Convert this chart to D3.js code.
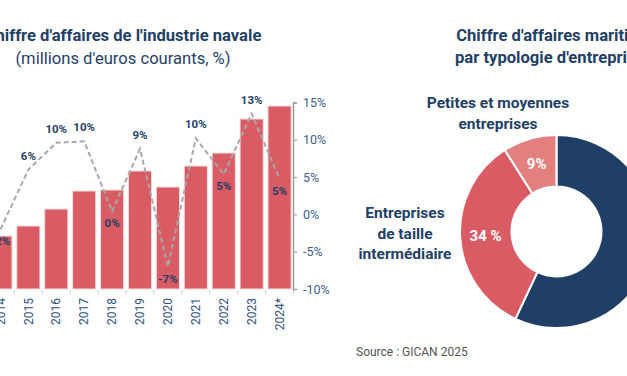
<!DOCTYPE html>
<head>
<meta charset="utf-8">
<title>Chiffre d'affaires industrie navale</title>
<style>
body { margin: 0; background: #fff; }
svg { display: block; font-family: Roboto, sans-serif; }
.bar { fill: #d95b64; stroke: #f7dede; stroke-width: 1; }
</style>
</head>
<body>
<script src="https://d3js.org/d3.v7.min.js"></script>
<script>

// Data
var years = ["2014", "2015", "2016", "2017", "2018", "2019", "2020", "2021", "2022", "2023", "2024*"];
var turnover = [7150, 7650, 8500, 9400, 9450, 10400, 9600, 10650, 11300, 13000, 13650];
var growth = [-2, 6, 9.6, 9.8, 0.4, 8.8, -7, 10.2, 5.4, 13.5, 4.8];
var growthLabels = ["-2%", "6%", "10%", "10%", "0%", "9%", "-7%", "10%", "5%", "13%", "5%"];
var growthTicks = [-10, -5, 0, 5, 10, 15];

var segments = ["Grandes entreprises", "Entreprises de taille intermédiaire", "Petites et moyennes entreprises"];
var shares = [57, 34, 9];
var shareLabels = ["57 %", "34 %", "9%"];

var navy = "#1f3f66";

var svg = d3.select("body").append("svg")
    .attr("width", 627)
    .attr("height", 376);

// ---- Left chart: bars + growth line ----
var x = d3.scaleBand()
    .domain(years)
    .range([-13.5, 293.5])
    .paddingInner(0.17)
    .paddingOuter(0.085);

var yVal = d3.scaleLinear()
    .domain([4500, 14000])
    .range([289, 99]);

var yPct = d3.scaleLinear()
    .domain([-10, 15])
    .range([289, 102.5]);

var left = svg.append("g");

left.selectAll(".bar")
    .data(years)
  .enter().append("rect")
    .attr("class", "bar")
    .attr("x", function(d) { return x(d); })
    .attr("width", x.bandwidth())
    .attr("y", function(d, i) { return yVal(turnover[i]); })
    .attr("height", function(d, i) { return yVal.range()[0] - yVal(turnover[i]); });

// category boundary ticks
var step = x.step();
var bounds = years.map(function(d) { return x(d) - step * x.paddingInner() / 2; });
bounds.push(x(years[years.length - 1]) + x.bandwidth() + step * x.paddingInner() / 2);
left.selectAll(".ctick")
    .data(bounds)
  .enter().append("line")
    .attr("x1", function(d) { return d; })
    .attr("x2", function(d) { return d; })
    .attr("y1", 290)
    .attr("y2", 294)
    .attr("stroke", "#d0d0d0");

// x labels
left.selectAll(".xlab")
    .data(years)
  .enter().append("text")
    .attr("transform", function(d) {
      return "translate(" + (x(d) + x.bandwidth() / 2) + ",298)rotate(-90)";
    })
    .attr("dy", "0.35em")
    .attr("text-anchor", "end")
    .attr("fill", "#2e4f7c")
    .style("font-size", "12px")
    .text(function(d) { return d; });

// right axis
var axisR = left.append("g")
    .attr("transform", "translate(293,0)")
    .call(d3.axisRight(yPct).tickValues(growthTicks).tickSize(4).tickPadding(6)
      .tickFormat(function(d) { return d + "%"; }));
axisR.select(".domain").attr("stroke", "#9a9a9a").attr("stroke-width", 1.5);
axisR.selectAll(".tick line").attr("stroke", "#9a9a9a");
axisR.selectAll("text")
    .attr("fill", "#3d5f8c")
    .style("font-size", "12.5px")
    .style("font-family", "Roboto, sans-serif");

// growth line
var cx = function(i) { return x(years[i]) + x.bandwidth() / 2; };
var line = d3.line()
    .x(function(d, i) { return cx(i); })
    .y(function(d) { return yPct(d); });

left.append("path")
    .datum(growth)
    .attr("d", line)
    .attr("fill", "none")
    .attr("stroke", "#a8a8a8")
    .attr("stroke-width", 2)
    .attr("stroke-dasharray", "5,3");

left.selectAll(".glab")
    .data(growth)
  .enter().append("text")
    .attr("x", function(d, i) { return cx(i); })
    .attr("y", function(d, i) {
      var prev = i > 0 ? growth[i - 1] : Infinity;
      var next = i < growth.length - 1 ? growth[i + 1] : Infinity;
      var below = d < prev && d < next;
      return below ? yPct(d) + 16 : yPct(d) - 10;
    })
    .attr("text-anchor", "middle")
    .attr("fill", navy)
    .style("font-size", "11.5px")
    .style("font-weight", "bold")
    .text(function(d, i) { return growthLabels[i]; });

// titles
left.append("text")
    .attr("x", 123).attr("y", 41)
    .attr("text-anchor", "middle")
    .attr("fill", navy)
    .style("font-size", "16.6px")
    .style("font-weight", "bold")
    .text("Chiffre d'affaires de l'industrie navale");

left.append("text")
    .attr("x", 123).attr("y", 64)
    .attr("text-anchor", "middle")
    .attr("fill", navy)
    .style("font-size", "16.6px")
    .text("(millions d'euros courants, %)");

// ---- Right chart: donut ----
var right = svg.append("g");

right.append("text")
    .attr("x", 554).attr("y", 41)
    .attr("text-anchor", "middle")
    .attr("fill", navy)
    .style("font-size", "16.6px")
    .style("font-weight", "bold")
    .text("Chiffre d'affaires maritime");

right.append("text")
    .attr("x", 554).attr("y", 63)
    .attr("text-anchor", "middle")
    .attr("fill", navy)
    .style("font-size", "16.6px")
    .style("font-weight", "bold")
    .text("par typologie d'entreprises");

var color = d3.scaleOrdinal()
    .domain(segments)
    .range([navy, "#d95b64", "#e2807f"]);

var pie = d3.pie().sort(null).value(function(d) { return d; });
var arcs = pie(shares);
var arc = d3.arc().innerRadius(45).outerRadius(96.5);
var labelArc = d3.arc().innerRadius(71).outerRadius(71);

var donut = right.append("g")
    .attr("transform", "translate(556.5,231.5)");

donut.selectAll("path")
    .data(arcs)
  .enter().append("path")
    .attr("d", arc)
    .attr("fill", function(d, i) { return color(segments[i]); })
    .attr("stroke", "#fff")
    .attr("stroke-width", 2);

donut.selectAll(".slab")
    .data(arcs)
  .enter().append("text")
    .attr("transform", function(d, i) {
      var c = labelArc.centroid(d);
      if (i === 0) { c[0] += 10; c[1] -= 12; }
      return "translate(" + c + ")";
    })
    .attr("dy", "0.35em")
    .attr("text-anchor", function(d, i) { return i === 0 ? "start" : "middle"; })
    .attr("dx", function(d, i) { return i === 0 ? -8 : 0; })
    .attr("fill", "#fff")
    .style("font-size", "15px")
    .style("font-weight", "bold")
    .text(function(d, i) { return shareLabels[i]; });

// category names
var catText = [
  { lines: ["Petites et moyennes", "entreprises"], x: 498, y: 108 },
  { lines: ["Entreprises", "de taille", "intermédiaire"], x: 405, y: 218 }
];
catText.forEach(function(c) {
  var t = right.append("text")
      .attr("text-anchor", "middle")
      .attr("fill", navy)
      .style("font-size", "15.5px")
      .style("font-weight", "bold");
  c.lines.forEach(function(l, k) {
    t.append("tspan").attr("x", c.x).attr("y", c.y + k * 20.5).text(l);
  });
});

right.append("text")
    .attr("x", 356).attr("y", 356)
    .attr("fill", "#555")
    .style("font-size", "12px")
    .text("Source : GICAN 2025");

</script>
</body>
</html>
